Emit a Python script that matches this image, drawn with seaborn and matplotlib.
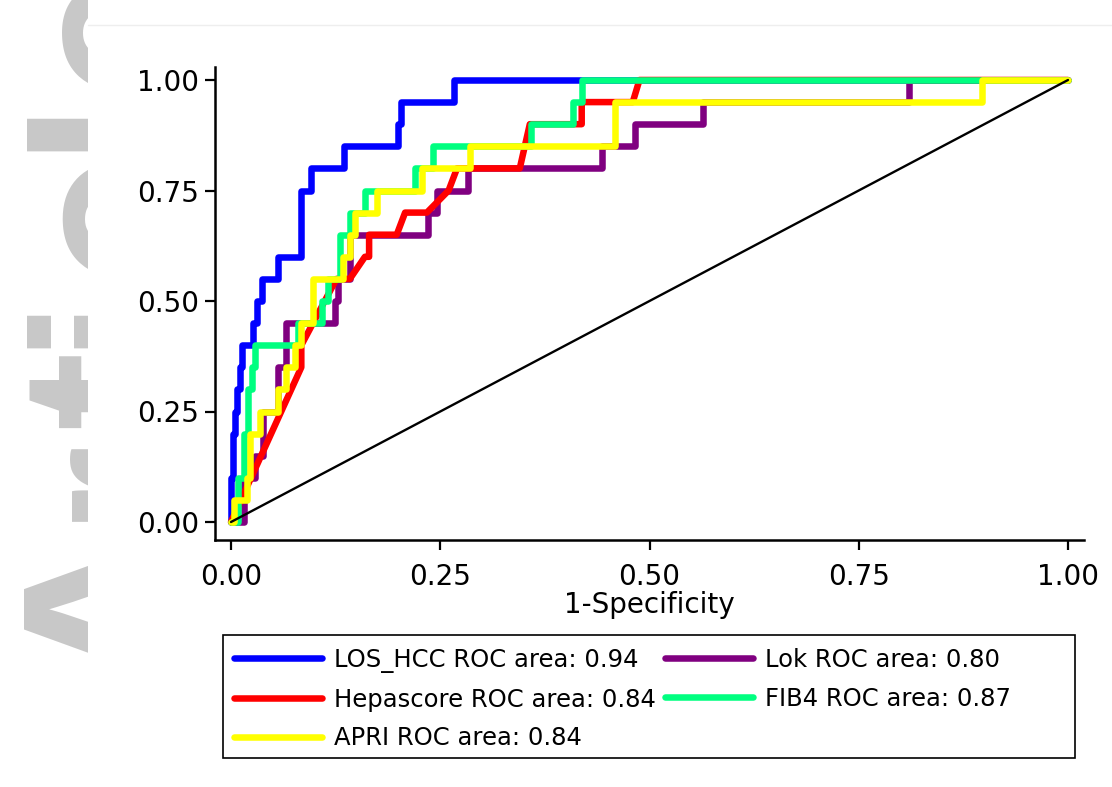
import matplotlib
matplotlib.use("Agg")
import numpy as np
import pandas as pd
import matplotlib.pyplot as plt
import seaborn as sns
from matplotlib.patches import Rectangle
from matplotlib.lines import Line2D

# ---------------- data ----------------
los_fpr = [0, 0, 0.002, 0.002, 0.005, 0.005, 0.007, 0.007, 0.011, 0.011, 0.013, 0.013,
           0.026, 0.026, 0.031, 0.031, 0.037, 0.037, 0.056, 0.056, 0.084, 0.084, 0.096,
           0.096, 0.135, 0.135, 0.200, 0.200, 0.203, 0.203, 0.267, 0.267, 1.0]
los_tpr = [0, 0.10, 0.10, 0.20, 0.20, 0.25, 0.25, 0.30, 0.30, 0.35, 0.35, 0.40,
           0.40, 0.45, 0.45, 0.50, 0.50, 0.55, 0.55, 0.60, 0.60, 0.75, 0.75,
           0.80, 0.80, 0.85, 0.85, 0.90, 0.90, 0.95, 0.95, 1.0, 1.0]

hep_fpr = [0, 0.084, 0.084, 0.126, 0.142, 0.160, 0.165, 0.165, 0.198, 0.208, 0.234,
           0.260, 0.270, 0.345, 0.357, 0.419, 0.419, 0.480, 0.488, 1.0]
hep_tpr = [0, 0.35, 0.40, 0.55, 0.55, 0.60, 0.60, 0.65, 0.65, 0.70, 0.70,
           0.75, 0.80, 0.80, 0.90, 0.90, 0.95, 0.95, 1.0, 1.0]

apri_fpr = [0, 0.003, 0.003, 0.019, 0.019, 0.023, 0.023, 0.035, 0.035, 0.056, 0.056,
            0.066, 0.066, 0.076, 0.076, 0.084, 0.084, 0.098, 0.098, 0.134, 0.134,
            0.142, 0.142, 0.148, 0.148, 0.174, 0.174, 0.228, 0.228, 0.286, 0.286,
            0.459, 0.459, 0.897, 0.897, 1.0]
apri_tpr = [0, 0, 0.05, 0.05, 0.10, 0.10, 0.20, 0.20, 0.25, 0.25, 0.30,
            0.30, 0.35, 0.35, 0.40, 0.40, 0.45, 0.45, 0.55, 0.55, 0.60,
            0.60, 0.65, 0.65, 0.70, 0.70, 0.75, 0.75, 0.80, 0.80, 0.85,
            0.85, 0.95, 0.95, 1.0, 1.0]

lok_fpr = [0, 0.015, 0.015, 0.029, 0.029, 0.038, 0.038, 0.056, 0.056, 0.066, 0.066,
           0.124, 0.124, 0.128, 0.128, 0.142, 0.142, 0.235, 0.235, 0.246, 0.246,
           0.283, 0.283, 0.443, 0.443, 0.483, 0.483, 0.564, 0.564, 0.810, 0.810, 1.0]
lok_tpr = [0, 0, 0.10, 0.10, 0.15, 0.15, 0.25, 0.25, 0.35, 0.35, 0.45,
           0.45, 0.50, 0.50, 0.55, 0.55, 0.65, 0.65, 0.70, 0.70, 0.75,
           0.75, 0.80, 0.80, 0.85, 0.85, 0.90, 0.90, 0.95, 0.95, 1.0, 1.0]

fib4_fpr = [0, 0.008, 0.008, 0.015, 0.015, 0.020, 0.020, 0.025, 0.025, 0.029, 0.029,
            0.080, 0.080, 0.109, 0.109, 0.116, 0.116, 0.130, 0.130, 0.142, 0.142,
            0.160, 0.160, 0.220, 0.220, 0.241, 0.241, 0.359, 0.359, 0.409, 0.409,
            0.419, 0.419, 1.0]
fib4_tpr = [0, 0, 0.10, 0.10, 0.20, 0.20, 0.30, 0.30, 0.35, 0.35, 0.40,
            0.40, 0.45, 0.45, 0.50, 0.50, 0.55, 0.55, 0.65, 0.65, 0.70,
            0.70, 0.75, 0.75, 0.80, 0.80, 0.85, 0.85, 0.90, 0.90, 0.95,
            0.95, 1.0, 1.0]

ref_x = [0, 1]
ref_y = [0, 1]

model_names = ["LOS_HCC", "Lok", "Hepascore", "FIB4", "APRI"]   # draw order
model_auc = {"LOS_HCC": "0.94", "Lok": "0.80", "Hepascore": "0.84", "FIB4": "0.87", "APRI": "0.84"}
model_colors = {"LOS_HCC": "#0000FF", "Lok": "#800080", "Hepascore": "#FF0000",
                "FIB4": "#00FF80", "APRI": "#FFFF00"}
curves = {"LOS_HCC": (los_fpr, los_tpr), "Lok": (lok_fpr, lok_tpr),
          "Hepascore": (hep_fpr, hep_tpr), "FIB4": (fib4_fpr, fib4_tpr),
          "APRI": (apri_fpr, apri_tpr)}
legend_order = ["LOS_HCC", "Hepascore", "APRI", "Lok", "FIB4"]

x_ticks = [0.0, 0.25, 0.5, 0.75, 1.0]
x_ticklabels = ["0.00", "0.25", "0.50", "0.75", "1.00"]
y_ticks = [0.0, 0.25, 0.5, 0.75, 1.0]
y_ticklabels = ["0.00", "0.25", "0.50", "0.75", "1.00"]

# ---------------- figure ----------------
sns.set_theme(style="white")
plt.rcParams["font.family"] = ["DejaVu Sans"]
plt.rcParams["text.color"] = "black"

W, H = 1112, 787
fig = plt.figure(figsize=(W / 100, H / 100), dpi=100)
fig.patch.set_facecolor("white")

# watermark strip at the left (covered on the right by a white panel)
ax_wm = fig.add_axes([0, 0, 1, 1], zorder=0)
ax_wm.set_xlim(0, W)
ax_wm.set_ylim(H, 0)
ax_wm.axis("off")
wm_letters = ["d", "A", "r", "t", "i", "c", "l", "e"]
wm_pos = [833, 603, 475, 388, 315, 212, 118, 25]
for ch, yp in zip(wm_letters, wm_pos):
    ax_wm.text(183, yp, ch, rotation=90, rotation_mode="anchor", ha="center",
               va="baseline", fontsize=171, fontweight="bold",
               family="Liberation Sans", color="#c8c8c8")
ax_wm.add_patch(Rectangle((88, 0), W - 88, H, facecolor="white", edgecolor="none",
                          zorder=5))
ax_wm.plot([88, W], [25, 25], color="#eeeeee", lw=1, zorder=6)

# main axes
left, right, top, bottom = 215, 1084, 67, 540
ax = fig.add_axes([left / W, 1 - bottom / H, (right - left) / W, (bottom - top) / H],
                  zorder=2)
ax.set_facecolor("white")

lw = 4.7
for name in model_names:
    fpr, tpr = curves[name]
    df = pd.DataFrame({"fpr": fpr, "tpr": tpr})
    sns.lineplot(data=df, x="fpr", y="tpr", sort=False, estimator=None,
                 color=model_colors[name], linewidth=lw, ax=ax,
                 label=f"{name} ROC area: {model_auc[name]}")
sns.lineplot(x=ref_x, y=ref_y, color="black", linewidth=1.7, ax=ax, sort=False,
             estimator=None)

x0, xs = 231, 837
y0, ys = 522, 442
ax.set_xlim((left - x0) / xs, (right - x0) / xs)
ax.set_ylim((y0 - bottom) / ys, (y0 - top) / ys)

ax.set_xticks(x_ticks)
ax.set_xticklabels(x_ticklabels)
ax.set_yticks(y_ticks)
ax.set_yticklabels(y_ticklabels)
ax.tick_params(axis="both", direction="out", length=7.5, width=1.6, labelsize=20,
               color="black", labelcolor="black", left=True, bottom=True)
ax.tick_params(axis="y", pad=4)
ax.tick_params(axis="x", pad=9)
for s in ["top", "right"]:
    ax.spines[s].set_visible(False)
for s in ["left", "bottom"]:
    ax.spines[s].set_color("black")
    ax.spines[s].set_linewidth(1.8)
ax.set_xlabel("1-Specificity", fontsize=20, color="black", labelpad=0)
ax.set_ylabel("")
ax.grid(False)

# legend
ax.get_legend().remove()
ordered_labels = [f"{n} ROC area: {model_auc[n]}" for n in legend_order]
ordered_handles = [Line2D([0], [0], color=model_colors[n], lw=lw) for n in legend_order]
leg = fig.legend(ordered_handles, ordered_labels, ncol=2, loc="upper left",
                 bbox_to_anchor=(234 / W, 1 - 648 / H), frameon=False, fontsize=17.5,
                 handlelength=3.6, handletextpad=0.5, columnspacing=0.4,
                 labelspacing=0.6, borderpad=0, borderaxespad=0)
for t in leg.get_texts():
    t.set_color("black")
fig.add_artist(Rectangle((223 / W, 1 - 758 / H), (1075 - 223) / W, (758 - 635) / H,
                         transform=fig.transFigure, fill=False, edgecolor="black", lw=1.2,
                         zorder=3))

fig.savefig("out.png", dpi=100, facecolor="white")
